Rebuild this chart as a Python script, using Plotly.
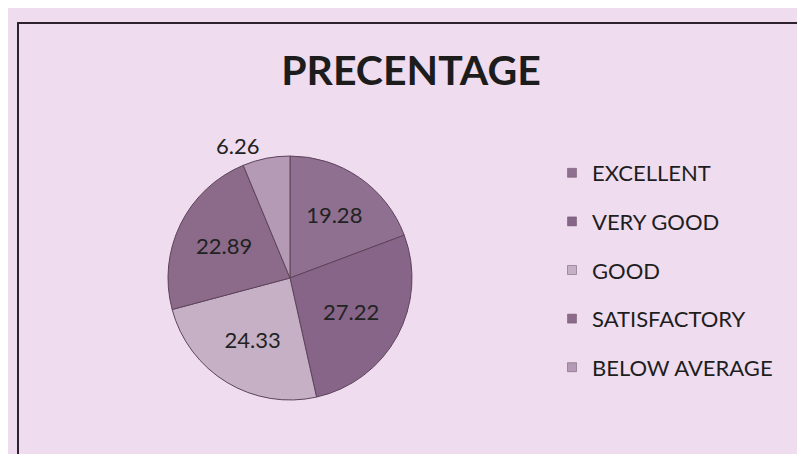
import plotly.graph_objects as go

categories = ["EXCELLENT", "VERY GOOD", "GOOD", "SATISFACTORY", "BELOW AVERAGE"]
percentages = [19.28, 27.22, 24.33, 22.89, 6.26]
colors = ["#8f7090", "#866588", "#c6b0c6", "#8b6b89", "#b59ab5"]
label_pos = ["inside", "inside", "inside", "inside", "outside"]

W, H = 805, 454
bg = "#efdcef"

# pie centre / radius in pixels (plotly nudges it a bit for the outside label)
cx, cy, r = 282, 270, 122

fig = go.Figure()

fig.add_trace(go.Pie(
    labels=categories,
    values=percentages,
    text=[f"{v:.2f}" for v in percentages],
    textinfo="text",
    textposition=label_pos,
    insidetextorientation="horizontal",
    textfont=dict(family="Lato", size=22, color="#222222"),
    sort=False,
    direction="clockwise",
    rotation=0,
    marker=dict(colors=colors, line=dict(color="#5e445b", width=1)),
    domain=dict(x=[(cx - r) / W, (cx + r) / W], y=[1 - (cy + r) / H, 1 - (cy - r) / H]),
    showlegend=False,
))

# legend entries as separate groups so the spacing can be set
for name, col in zip(categories, colors):
    fig.add_trace(go.Scatter(
        x=[None], y=[None], mode="markers", name=name,
        legendgroup=name,
        marker=dict(symbol="square", size=9, color=col,
                    line=dict(color="#6a5068", width=0.5)),
    ))

fig.update_layout(
    width=W, height=H,
    margin=dict(l=0, r=0, t=0, b=0),
    paper_bgcolor=bg, plot_bgcolor=bg,
    title=dict(text="PRECENTAGE", x=403 / W, xanchor="center",
               y=1 - 63 / H, yanchor="middle",
               font=dict(family="Lato", size=41, color="#1c1c1c", weight="bold")),
    xaxis=dict(visible=False), yaxis=dict(visible=False),
    legend=dict(x=544 / W, xanchor="left", y=1 - 144 / H, yanchor="top",
                font=dict(family="Lato", size=22, color="#1e1e1e"),
                itemwidth=30, tracegroupgap=17, bgcolor="rgba(0,0,0,0)"),
    shapes=[dict(type="rect", xref="paper", yref="paper",
                 x0=10 / W, x1=1.02, y0=1 - 448 / H, y1=1 - 15 / H,
                 line=dict(color="#2e222e", width=2))],
)

fig.write_html("out.html")
